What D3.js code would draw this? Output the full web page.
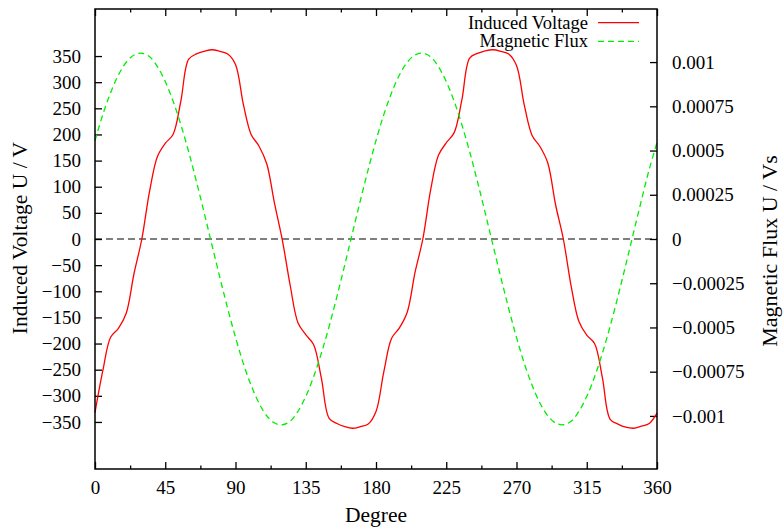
<!DOCTYPE html>
<html>
<head>
<meta charset="utf-8">
<script src="https://cdn.jsdelivr.net/npm/d3@7"></script>
<style>
  body { margin: 0; background: #fff; }
  text { font-family: "Liberation Serif", "DejaVu Serif", serif; }
</style>
</head>
<body>
<svg id="chart" width="784" height="530"></svg>
<script>
// Angle in degrees, sampled every 5 degrees
const degrees = d3.range(0, 361, 5);

// Induced voltage (V)
const voltage = [
  -332, -252, -188, -171, -142, -66, 0, 92, 158, 183, 200, 264, 344, 354, 359, 362, 359, 354,
  334, 258, 200, 178, 144, 68, -2, -88, -160, -183, -202, -266, -343, -353, -359, -362, -359, -354,
  -330, -254, -190, -170, -140, -64, 0, 94, 160, 184, 203, 266, 346, 355, 360, 362, 359, 354,
  332, 256, 198, 177, 146, 66, 0, -90, -158, -184, -200, -265, -345, -354, -360, -362, -358, -353,
  -333
];

// Magnetic flux (Vs)
const flux = [
  0.000556, 0.000703, 0.000827, 0.000927, 0.000999, 0.00104, 0.00105, 0.00103, 0.000974, 0.00089,
  0.00078, 0.000646, 0.000493, 0.000324, 0.000146, -0.000037, -0.000218, -0.000393,
  -0.000556, -0.000703, -0.000827, -0.000927, -0.000999, -0.00104, -0.00105, -0.00103, -0.000974, -0.00089,
  -0.00078, -0.000646, -0.000493, -0.000324, -0.000146, 0.000037, 0.000218, 0.000393,
  0.000556, 0.000703, 0.000827, 0.000927, 0.000999, 0.00104, 0.00105, 0.00103, 0.000974, 0.00089,
  0.00078, 0.000646, 0.000493, 0.000324, 0.000146, -0.000037, -0.000218, -0.000393,
  -0.000556, -0.000703, -0.000827, -0.000927, -0.000999, -0.00104, -0.00105, -0.00103, -0.000974, -0.00089,
  -0.00078, -0.000646, -0.000493, -0.000324, -0.000146, 0.000037, 0.000218, 0.000393,
  0.000545
];

// Tick values
const xTicks = d3.range(0, 361, 45);
const xMinorTicks = d3.range(22.5, 360, 45);
const yTicks = d3.range(-350, 351, 50);
const y2Ticks = [-0.001, -0.00075, -0.0005, -0.00025, 0, 0.00025, 0.0005, 0.00075, 0.001];

const seriesNames = ["Induced Voltage", "Magnetic Flux"];

// Plot box
const margin = { top: 9, right: 127, bottom: 61, left: 95 };
const W = 784, H = 530;
const width = W - margin.left - margin.right;
const height = H - margin.top - margin.bottom;
const fontSize = 19;
const titleSize = 21.5;
const minus = (s) => s.replace("-", "\u2212");

const svg = d3.select("#chart");
const g = svg.append("g").attr("transform", `translate(${margin.left},${margin.top})`);

// Scales
const x = d3.scaleLinear().domain([0, 360]).range([0, width]);
const y = d3.scaleLinear().domain([-440, 440]).range([height, 0]);
const y2 = d3.scaleLinear().domain([-0.0013, 0.0013]).range([height, 0]);

// Axes (ticks drawn inward like gnuplot)
const axisStyle = (sel) => {
  sel.select(".domain").remove();
  sel.selectAll(".tick line").attr("stroke", "#000").attr("stroke-width", 1.3);
  sel.selectAll(".tick text").attr("font-size", fontSize).attr("fill", "#000")
    .attr("font-family", "Liberation Serif");
};

// bottom
g.append("g")
  .attr("transform", `translate(0,${height})`)
  .call(d3.axisBottom(x).tickValues(xTicks).tickSizeInner(-7).tickSizeOuter(0).tickPadding(12)
    .tickFormat(d3.format("d")))
  .call(axisStyle);
g.append("g")
  .attr("transform", `translate(0,${height})`)
  .call(d3.axisBottom(x).tickValues(xMinorTicks).tickSize(-3.5).tickFormat(""))
  .call(axisStyle);
// top (mirror)
g.append("g")
  .call(d3.axisTop(x).tickValues(xTicks).tickSize(-7).tickFormat(""))
  .call(axisStyle);
g.append("g")
  .call(d3.axisTop(x).tickValues(xMinorTicks).tickSize(-3.5).tickFormat(""))
  .call(axisStyle);
// left
g.append("g")
  .call(d3.axisLeft(y).tickValues(yTicks).tickSizeInner(-7).tickSizeOuter(0).tickPadding(14)
    .tickFormat((d) => minus(String(d))))
  .call(axisStyle);
// right
g.append("g")
  .attr("transform", `translate(${width},0)`)
  .call(d3.axisRight(y2).tickValues(y2Ticks).tickSizeInner(-7).tickSizeOuter(0).tickPadding(15)
    .tickFormat((d) => minus(String(d))))
  .call(axisStyle);

// Zero line
g.append("line")
  .attr("x1", 0).attr("x2", width)
  .attr("y1", y(0)).attr("y2", y(0))
  .attr("stroke", "#000").attr("stroke-width", 1.1)
  .attr("stroke-dasharray", "7,4");

// Curves
const lineV = d3.line()
  .x((d, i) => x(degrees[i]))
  .y((d) => y(d))
  .curve(d3.curveCatmullRom);
const lineF = d3.line()
  .x((d, i) => x(degrees[i]))
  .y((d) => y2(d))
  .curve(d3.curveCatmullRom);

g.append("path")
  .datum(voltage)
  .attr("d", lineV)
  .attr("fill", "none")
  .attr("stroke", "#ff0000")
  .attr("stroke-width", 1.3);

g.append("path")
  .datum(flux)
  .attr("d", lineF)
  .attr("fill", "none")
  .attr("stroke", "#00ee00")
  .attr("stroke-width", 1.3)
  .attr("stroke-dasharray", "6,4");

// Frame
g.append("rect")
  .attr("width", width).attr("height", height)
  .attr("fill", "none").attr("stroke", "#000").attr("stroke-width", 1.5);

// Legend
const legend = svg.append("g");
seriesNames.forEach((name, i) => {
  const ly = 22.7 + i * 18.6;
  legend.append("text")
    .attr("x", 588).attr("y", ly + 6)
    .attr("text-anchor", "end")
    .attr("font-size", 18.5)
    .text(name);
  legend.append("line")
    .attr("x1", 598).attr("x2", 639)
    .attr("y1", ly).attr("y2", ly)
    .attr("stroke", i === 0 ? "#ff0000" : "#00ee00")
    .attr("stroke-width", 1.3)
    .attr("stroke-dasharray", i === 0 ? null : "6,4");
});

// Axis titles
svg.append("text")
  .attr("x", margin.left + width / 2).attr("y", 522)
  .attr("text-anchor", "middle")
  .attr("font-size", titleSize)
  .text("Degree");

svg.append("text")
  .attr("transform", `translate(27,238) rotate(-90)`)
  .attr("text-anchor", "middle")
  .attr("font-size", titleSize)
  .text("Induced Voltage U / V");

svg.append("text")
  .attr("transform", `translate(777,251) rotate(-90)`)
  .attr("text-anchor", "middle")
  .attr("font-size", 22)
  .text("Magnetic Flux U / Vs");
</script>
</body>
</html>
